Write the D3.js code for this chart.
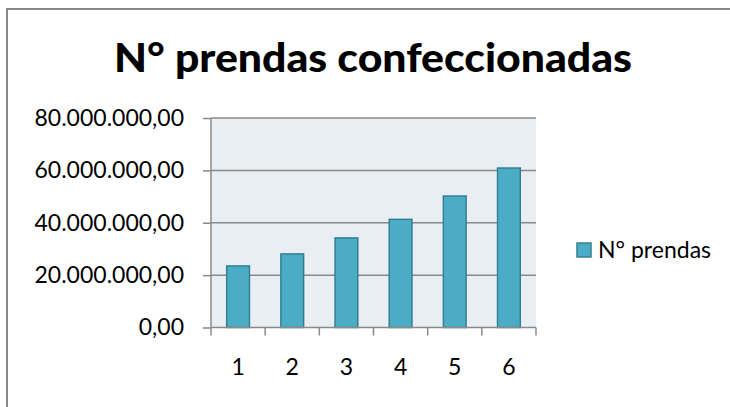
<!DOCTYPE html>
<html>
<head>
<meta charset="utf-8">
<script src="https://cdn.jsdelivr.net/npm/d3@7"></script>
<style>
  body { margin: 0; background: #fff; }
  svg { display: block; font-family: Lato, "Open Sans", sans-serif; }
</style>
</head>
<body>
<svg id="chart" width="730" height="407"></svg>
<script>
const title = "N° prendas confeccionadas";
const seriesName = "N° prendas";
const categories = ["1", "2", "3", "4", "5", "6"];
const values = [23500000, 28100000, 34200000, 41300000, 50200000, 60900000];
const yTicks = [0, 20000000, 40000000, 60000000, 80000000];

const svg = d3.select("#chart");
const plot = { left: 211, right: 536, top: 118, bottom: 327.5 };

// chart outer border (cut off on right/bottom like the screenshot)
svg.append("rect")
    .attr("x", 7).attr("y", 9)
    .attr("width", 740).attr("height", 420)
    .attr("fill", "none")
    .attr("stroke", "#878787")
    .attr("stroke-width", 2);

const t = svg.append("text")
    .attr("x", 373).attr("y", 72)
    .attr("text-anchor", "middle")
    .attr("font-weight", "900")
    .attr("font-size", 40)
    .attr("fill", "#000")
    .text(title);
// fit the title width to the original
t.attr("textLength", 518).attr("lengthAdjust", "spacingAndGlyphs");

const x = d3.scaleBand()
    .domain(categories)
    .range([plot.left, plot.right])
    .paddingInner(0.58)
    .paddingOuter(0.29);

const y = d3.scaleLinear()
    .domain([0, 80000000])
    .range([plot.bottom, plot.top]);

const fmt = (v) => {
    const s = d3.format(",.2f")(v);
    return s.replace(/,/g, "#").replace(".", ",").replace(/#/g, ".");
};

svg.append("rect")
    .attr("x", plot.left).attr("y", plot.top)
    .attr("width", plot.right - plot.left)
    .attr("height", plot.bottom - plot.top)
    .attr("fill", "#E8EEF2");

// gridlines
svg.append("g")
    .selectAll("line")
    .data(yTicks.filter((d) => d > 0))
    .join("line")
    .attr("x1", plot.left).attr("x2", plot.right)
    .attr("y1", (d) => y(d)).attr("y2", (d) => y(d))
    .attr("stroke", "#8a8a8a")
    .attr("stroke-width", 1.5);

// bars
svg.append("g")
    .selectAll("rect")
    .data(values)
    .join("rect")
    .attr("x", (d, i) => x(categories[i]))
    .attr("y", (d) => y(d))
    .attr("width", x.bandwidth())
    .attr("height", (d) => plot.bottom - y(d))
    .attr("fill", "#4BACC6")
    .attr("stroke", "#357F94")
    .attr("stroke-width", 1.5);

// y axis
const yAxis = svg.append("g")
    .attr("transform", `translate(${plot.left},0)`)
    .call(d3.axisLeft(y).tickValues(yTicks).tickFormat(fmt).tickSize(8).tickPadding(19));
yAxis.select(".domain").attr("stroke", "#8a8a8a").attr("stroke-width", 1.5)
    .attr("d", `M0,${plot.top}V${plot.bottom}`);
yAxis.selectAll(".tick line").attr("stroke", "#8a8a8a").attr("stroke-width", 1.5);
yAxis.selectAll(".tick text")
    .attr("font-size", 23)
    .attr("fill", "#000")
    .attr("font-family", "Lato, sans-serif");

// x axis
const xAxis = svg.append("g")
    .attr("transform", `translate(0,${plot.bottom})`)
    .call(d3.axisBottom(x).tickSize(0).tickPadding(31));
xAxis.select(".domain").attr("stroke", "#8a8a8a").attr("stroke-width", 1.5)
    .attr("d", `M${plot.left},0H${plot.right}`);
xAxis.selectAll(".tick text")
    .attr("font-size", 23)
    .attr("fill", "#000")
    .attr("font-family", "Lato, sans-serif");
const step = (plot.right - plot.left) / categories.length;
xAxis.append("g")
    .selectAll("line")
    .data(d3.range(categories.length + 1))
    .join("line")
    .attr("x1", (d) => plot.left + d * step)
    .attr("x2", (d) => plot.left + d * step)
    .attr("y1", 0).attr("y2", 8)
    .attr("stroke", "#8a8a8a")
    .attr("stroke-width", 1.5);

// legend
const legend = svg.append("g").attr("transform", "translate(577,243)");
legend.append("rect")
    .attr("width", 14).attr("height", 14)
    .attr("fill", "#4BACC6")
    .attr("stroke", "#357F94")
    .attr("stroke-width", 1.5);
legend.append("text")
    .attr("x", 21).attr("y", 7)
    .attr("dy", "0.35em")
    .attr("font-size", 23)
    .attr("fill", "#000")
    .text(seriesName);
</script>
</body>
</html>
